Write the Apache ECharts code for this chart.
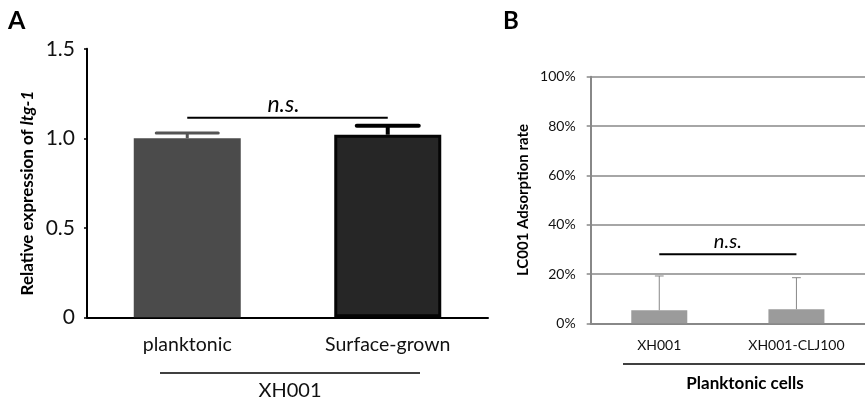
<!DOCTYPE html>
<html>
<head>
<meta charset="utf-8">
<script src="https://cdn.jsdelivr.net/npm/echarts@6/dist/echarts.min.js"></script>
<style>
  html, body { margin: 0; padding: 0; background: #fff; }
  #chart { width: 865px; height: 402px; }
</style>
</head>
<body>
<div id="chart"></div>
<script>
// panel A
const catsA = ['planktonic', 'Surface-grown'];
const meanA = [1.0, 1.02];
const upperA = [1.03, 1.07];
const ticksA = [0, 0.5, 1.0, 1.5];
const nsA = [0.16, 0.78, 1.115]; // from cat, to cat, y

// panel B
const catsB = ['XH001', 'XH001-CLJ100'];
const meanB = [5.3, 5.7];
const upperB = [19.2, 18.5];
const nsB = [-0.01, 0.99, 28];

const FONT = 'Lato';

const chartDom = echarts.init(document.getElementById('chart'));

// error bar drawer
const errRender = (capW, colors, widths) => (params, api) => {
  const i = api.value(0);
  const p0 = api.coord([i, api.value(1)]);
  const p1 = api.coord([i, api.value(2)]);
  const c = colors[i], w = widths[i];
  return {
    type: 'group',
    children: [
      { type: 'line', shape: { x1: p0[0], y1: p0[1], x2: p1[0], y2: p1[1] }, style: { stroke: c, lineWidth: w } },
      { type: 'line', shape: { x1: p1[0] - capW / 2, y1: p1[1], x2: p1[0] + capW / 2, y2: p1[1] }, style: { stroke: c, lineWidth: w, lineCap: 'round' } }
    ]
  };
};

// n.s. bracket (line + italic text), textShift nudges label left/right
const nsRender = (fontSize, textGap, textShift) => (params, api) => {
  const a = api.coord([api.value(0), api.value(2)]);
  const b = api.coord([api.value(1), api.value(2)]);
  return {
    type: 'group',
    children: [
      { type: 'line', shape: { x1: a[0], y1: a[1], x2: b[0], y2: b[1] }, style: { stroke: '#000', lineWidth: 2 } },
      { type: 'text', x: (a[0] + b[0]) / 2 + textShift, y: a[1] - textGap, style: { text: 'n.s.', font: 'italic ' + fontSize + 'px ' + FONT, fill: '#000', align: 'center', verticalAlign: 'bottom' } }
    ]
  };
};

chartDom.setOption({
  animation: false,
  textStyle: { fontFamily: FONT },
  grid: [
    { left: 87, top: 48.8, right: 377, bottom: 84.7 },
    { left: 590.7, top: 76.8, right: -6, bottom: 78.7 }
  ],
  xAxis: [
    {
      gridIndex: 0, type: 'category', data: catsA,
      axisLine: { lineStyle: { color: '#000', width: 2 } },
      axisTick: { alignWithLabel: true, length: 6, lineStyle: { color: '#000', width: 1.5 } },
      axisLabel: { color: '#111', fontSize: 19.5, margin: 17, fontFamily: FONT }
    },
    {
      gridIndex: 1, type: 'category', data: catsB,
      axisLine: { lineStyle: { color: '#888', width: 2 } },
      axisTick: { length: 4, lineStyle: { color: '#888', width: 1.5 } },
      axisLabel: { color: '#111', fontSize: 14, margin: 15, fontFamily: FONT }
    }
  ],
  yAxis: [
    {
      gridIndex: 0, type: 'value', min: 0, max: 1.5, interval: 0.5,
      axisLine: { show: true, lineStyle: { color: '#000', width: 2 } },
      axisTick: { show: true, length: 3, lineStyle: { color: '#000', width: 1.5 } },
      splitLine: { show: false },
      axisLabel: {
        color: '#111', fontSize: 21, margin: 12, fontFamily: FONT,
        formatter: v => (v === 0 ? '0' : ticksA.includes(v) ? v.toFixed(1) : '')
      },
      name: 'Relative expression of {i|ltg-1}',
      nameLocation: 'middle', nameRotate: 90, nameGap: 51,
      nameTextStyle: {
        color: '#000', fontSize: 17, fontWeight: 'bold', fontFamily: FONT,
        padding: [0, 20, 0, 0],
        rich: { i: { fontSize: 17, fontWeight: 'bold', fontStyle: 'italic', fontFamily: FONT, color: '#000' } }
      }
    },
    {
      gridIndex: 1, type: 'value', min: 0, max: 100, interval: 20,
      axisLine: { show: true, lineStyle: { color: '#888', width: 2 } },
      axisTick: { show: true, length: 4, lineStyle: { color: '#888', width: 1.5 } },
      splitLine: { show: true, lineStyle: { color: '#888', width: 1.5 } },
      axisLabel: { color: '#111', fontSize: 14, margin: 15, fontFamily: FONT, formatter: '{value}%' },
      name: 'LC001 Adsorption rate',
      nameLocation: 'middle', nameRotate: 90, nameGap: 60,
      nameTextStyle: { color: '#000', fontSize: 15, fontWeight: 'bold', fontFamily: FONT }
    }
  ],
  series: [
    {
      type: 'bar', xAxisIndex: 0, yAxisIndex: 0, barWidth: 107,
      data: meanA.map((v, i) => ({
        value: v,
        itemStyle: i === 0
          ? { color: '#4b4b4b' }
          : { color: '#262626', borderColor: '#050505', borderWidth: 3 }
      }))
    },
    {
      type: 'custom', xAxisIndex: 0, yAxisIndex: 0, z: 3,
      renderItem: errRender(62, ['#555', '#000'], [3, 4]),
      data: meanA.map((v, i) => [i, v, upperA[i]])
    },
    {
      type: 'custom', xAxisIndex: 0, yAxisIndex: 0, z: 3,
      renderItem: nsRender(23, 2, -4),
      data: [nsA]
    },
    {
      type: 'bar', xAxisIndex: 1, yAxisIndex: 1, barWidth: 56,
      itemStyle: { color: '#9b9b9b' },
      data: meanB
    },
    {
      type: 'custom', xAxisIndex: 1, yAxisIndex: 1, z: 3,
      renderItem: errRender(8, ['#888', '#888'], [1, 1]),
      data: meanB.map((v, i) => [i, v, upperB[i]])
    },
    {
      type: 'custom', xAxisIndex: 1, yAxisIndex: 1, z: 3,
      renderItem: nsRender(20, 3, 0),
      data: [nsB]
    }
  ],
  graphic: [
    { type: 'text', x: 8, y: 21, style: { text: 'A', font: 'bold 25px ' + FONT, fill: '#000', verticalAlign: 'middle' } },
    { type: 'text', x: 503, y: 21, style: { text: 'B', font: 'bold 24px ' + FONT, fill: '#000', verticalAlign: 'middle' } },
    { type: 'line', shape: { x1: 160, y1: 373, x2: 420, y2: 373 }, style: { stroke: '#000', lineWidth: 1.5 } },
    { type: 'text', x: 290, y: 391, style: { text: 'XH001', font: '20px ' + FONT, fill: '#111', align: 'center', verticalAlign: 'middle' } },
    { type: 'line', shape: { x1: 623, y1: 364, x2: 865, y2: 364 }, style: { stroke: '#000', lineWidth: 1.5 } },
    { type: 'text', x: 745, y: 384, style: { text: 'Planktonic cells', font: 'bold 17px ' + FONT, fill: '#000', align: 'center', verticalAlign: 'middle' } }
  ]
});
</script>
</body>
</html>
